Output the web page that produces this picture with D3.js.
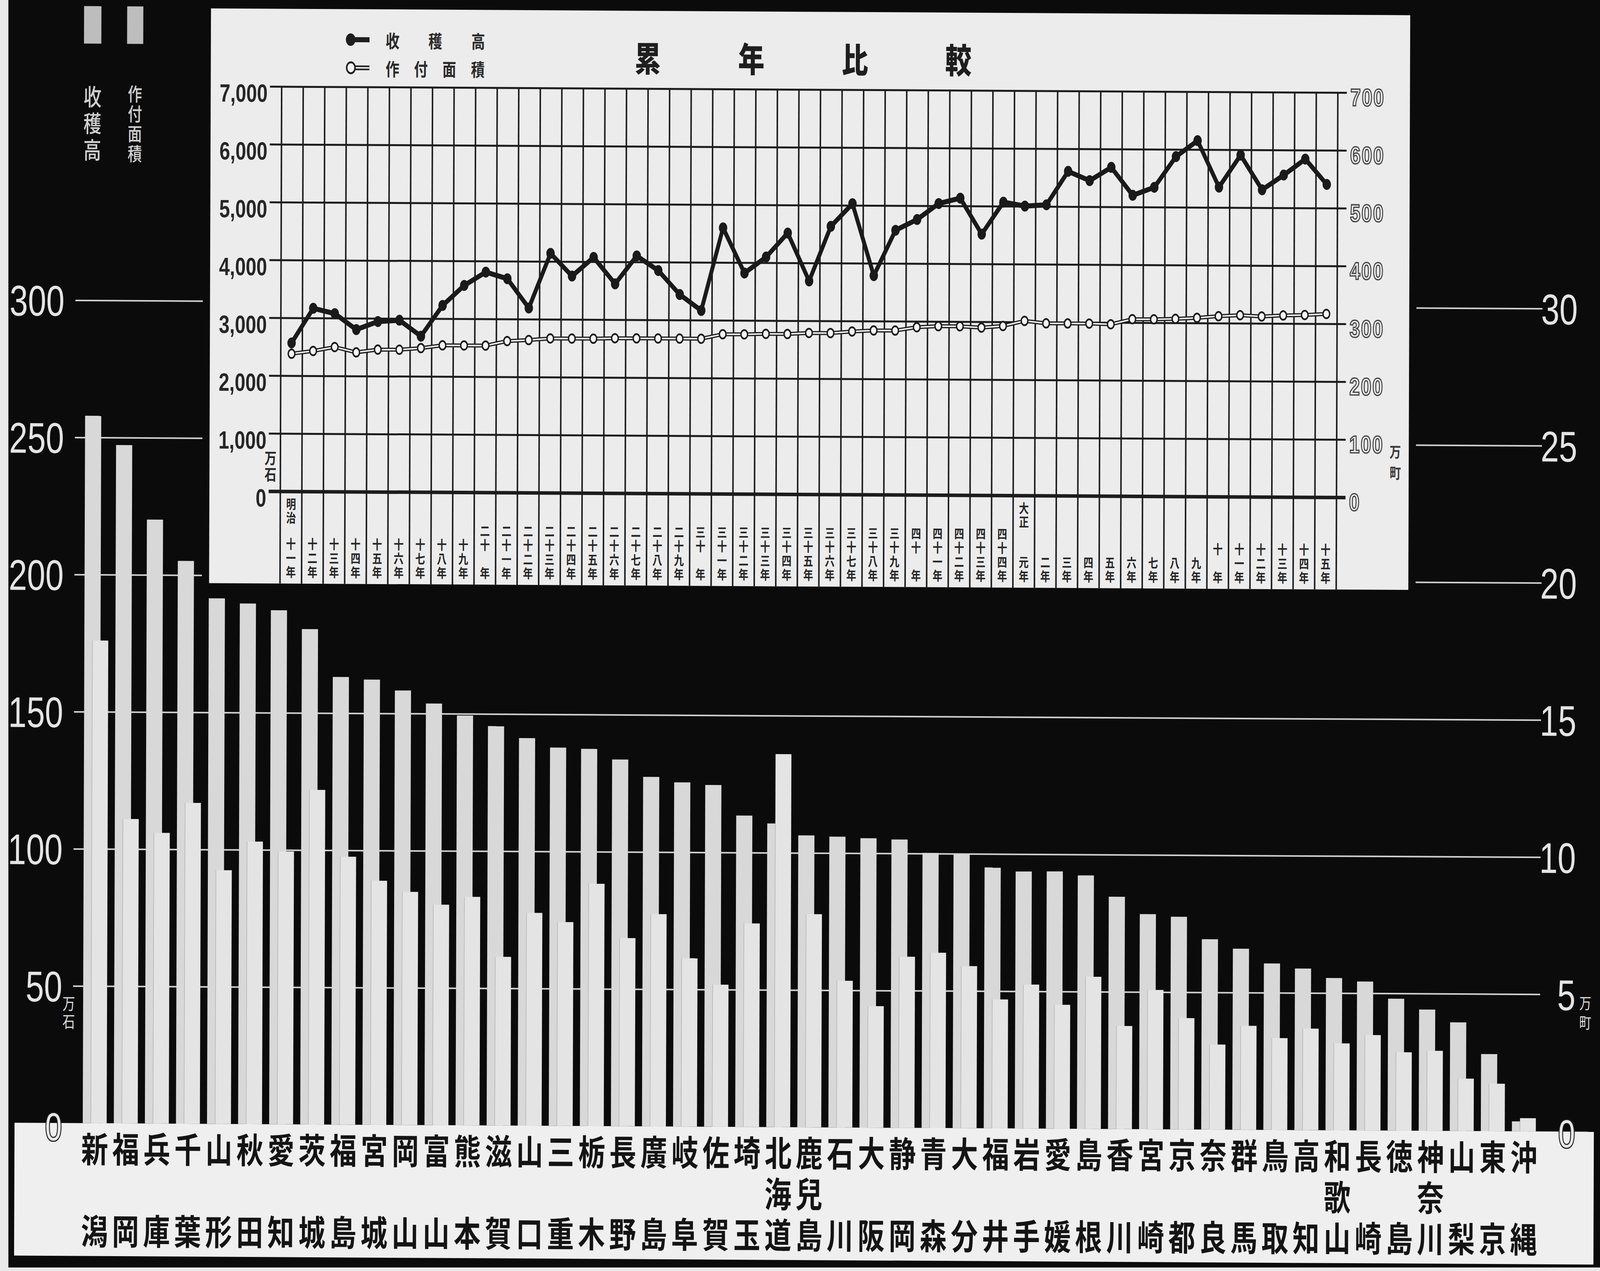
<!DOCTYPE html>
<html><head><meta charset="utf-8">
<script src="https://cdn.jsdelivr.net/npm/d3@7"></script>
<style>html,body{margin:0;padding:0;background:#e9e9e9;overflow:hidden;} svg{display:block;width:100vw;height:100vh;}
.vt{writing-mode:vertical-rl;}</style>
</head><body>
<svg id="c" viewBox="0 0 5346 3253" preserveAspectRatio="none"></svg>
<script>
// ---------- data ----------
const prefectures = ["新潟","福岡","兵庫","千葉","山形","秋田","愛知","茨城","福島","宮城","岡山","富山","熊本","滋賀","山口","三重","栃木","長野","廣島","岐阜","佐賀","埼玉","北海道","鹿兒島","石川","大阪","静岡","青森","大分","福井","岩手","愛媛","島根","香川","宮崎","京都","奈良","群馬","鳥取","高知","和歌山","長崎","徳島","神奈川","山梨","東京","沖縄"];
// 収穫高 (万石)
const harvest = [257.9,247.3,220.2,205.2,191.6,189.8,187.4,180.6,163.2,162.3,158.4,153.7,149.4,145.6,141.3,137.9,137.5,133.7,127.4,125.5,124.6,113.5,110.7,106.4,106,105.5,105.1,100.3,99.9,95.1,93.7,93.8,92.4,84.7,78.4,77.5,69.4,66,60.7,58.9,55.5,54.3,48.1,44.2,39.6,28.1,3.6];
// 作付面積 (万町)
const area = [17.6,11.1,10.6,11.7,9.25,10.3,9.95,12.2,9.77,8.9,8.5,8.04,8.33,6.15,7.76,7.43,8.84,6.86,7.74,6.14,5.18,7.42,13.6,7.77,5.35,4.43,6.24,6.39,5.91,4.7,5.25,4.52,5.55,3.76,5.08,4.06,3.1,3.79,3.35,3.7,3.17,3.48,2.86,2.92,1.91,1.73,0.48];
const leftTicks = [0,50,100,150,200,250,300];
const rightTicks = [0,5,10,15,20,25,30];

// inset: 累年比較
const yearLabels = ["　十一年","　十二年","　十三年","　十四年","　十五年","　十六年","　十七年","　十八年","　十九年","二十　年","二十一年","二十二年","二十三年","二十四年","二十五年","二十六年","二十七年","二十八年","二十九年","三十　年","三十一年","三十二年","三十三年","三十四年","三十五年","三十六年","三十七年","三十八年","三十九年","四十　年","四十一年","四十二年","四十三年","四十四年","　　元年","　　二年","　　三年","　　四年","　　五年","　　六年","　　七年","　　八年","　　九年","　十　年","　十一年","　十二年","　十三年","　十四年","　十五年"];
const eraLabels = [{at:0, text:"明治"},{at:34, text:"大正"}];
const yieldSeries = [2567,3168,3078,2804,2945,2970,2696,3230,3578,3811,3698,3194,4141,3751,4076,3620,4106,3855,3442,3168,4599,3820,4099,4516,3689,4636,5030,3788,4574,4763,5041,5136,4516,5071,5005,5030,5610,5452,5684,5203,5343,5876,6154,5352,5908,5311,5567,5846,5410];
const areaSeries = [238,243,250,241,246,246,249,254,254,254,262,264,267,267,267,268,268,268,268,268,276,276,277,277,279,279,282,284,284,290,292,292,290,293,302,298,298,298,297,306,306,307,309,312,314,312,314,315,317];
const insetLeftTicks = [0,1000,2000,3000,4000,5000,6000,7000];
const insetRightTicks = [0,100,200,300,400,500,600,700];

// ---------- drawing ----------
const W = 5346, H = 3253;
const cjk = "'Noto Sans CJK JP','Noto Sans CJK SC',sans-serif";
const narrow = "'Liberation Sans Narrow','Liberation Sans',sans-serif";
const sans = "'Liberation Sans',Arial,sans-serif";
const svg = d3.select("#c");
svg.append("rect").attr("width",W).attr("height",H).attr("fill","#e9e9e9");
svg.append("rect").attr("x",28).attr("y",0).attr("width",W-28).attr("height",3244).attr("fill","#0b0b0b");
const g = svg.append("g").attr("transform","rotate(0.25,2673,1626)");

// vertical text helper (one text element per column)
function vtext(parent, x0, yTop, str, fs, pitch, fill, weight){
  return parent.append("text").attr("class","vt").attr("x",x0).attr("y",yTop)
    .attr("font-family",cjk).attr("font-size",fs).attr("font-weight",weight||400)
    .attr("letter-spacing",pitch-fs).attr("fill",fill).text(str);
}

// bottom label panel
g.append("rect").attr("x",54).attr("y",2885).attr("width",5331-54).attr("height",3225-2885).attr("fill","#efefef");

// main scales
const x = d3.scaleBand().domain(prefectures).range([270,5149]);
const bw = x.bandwidth();
const y = d3.scaleLinear().domain([0,300]).range([2885,779]);
const yR = d3.scaleLinear().domain([0,30]).range([2885,779]);

// gridlines
const grid = g.append("g").attr("transform","translate(248,0)")
  .call(d3.axisRight(y).tickValues(leftTicks.filter(v=>v>0)).tickSize(5150-248).tickFormat(""));
grid.select(".domain").remove();
grid.selectAll("line").attr("stroke","#d0d0d0").attr("stroke-width",4);

// bars
g.append("g").selectAll("rect").data(prefectures).join("rect")
  .attr("x",d=>x(d)+bw*0.115).attr("width",bw*0.52)
  .attr("y",(d,i)=>y(harvest[i])).attr("height",(d,i)=>y(0)-y(harvest[i]))
  .attr("fill","#d8d8d8");
g.append("g").selectAll("rect").data(prefectures).join("rect")
  .attr("x",d=>x(d)+bw*0.375).attr("width",bw*0.51)
  .attr("y",(d,i)=>yR(area[i])).attr("height",(d,i)=>yR(0)-yR(area[i]))
  .attr("fill","#e4e4e4");
g.append("g").selectAll("line").data(prefectures).join("line")
  .attr("x1",d=>x(d)+bw*0.375).attr("x2",d=>x(d)+bw*0.375)
  .attr("y1",(d,i)=>Math.max(yR(area[i]), y(harvest[i]))).attr("y2",y(0))
  .attr("stroke","#b4b4b4").attr("stroke-width",2);

// left axis labels
const la = g.append("g").attr("transform","translate(212,0)")
  .call(d3.axisLeft(y).tickValues(leftTicks).tickSize(0).tickPadding(0).tickFormat(d3.format("d")));
la.select(".domain").remove();
la.selectAll("text").attr("fill","#e4e4e4").attr("font-family",narrow).attr("font-size",110).attr("dy","0.36em");
la.selectAll("text").filter(d=>d===0).attr("font-size",100).attr("stroke","#222").attr("stroke-width",6)
  .attr("paint-order","stroke").attr("fill","#e8e8e8").attr("y",8);
// right axis labels
const ra = g.append("g").attr("transform","translate(5268,0)")
  .call(d3.axisLeft(yR).tickValues(rightTicks).tickSize(0).tickPadding(0).tickFormat(d3.format("d")));
ra.select(".domain").remove();
ra.selectAll("text").attr("fill","#e4e4e4").attr("font-family",narrow).attr("font-size",110).attr("dy","0.36em");
ra.selectAll("text").filter(d=>d===0).attr("font-size",100).attr("stroke","#222").attr("stroke-width",6)
  .attr("paint-order","stroke").attr("fill","#e8e8e8").attr("y",4);

// unit marks
vtext(g, 234, y(50)+24, "万石", 42, 46, "#dcdcdc");
vtext(g, 5301, yR(5)+2, "万町", 40, 50, "#dcdcdc");

// top-left legend
const legendSw = [{x:274,w:58,label:"收穫高",pitch:68,fs:60,top:228},{x:418,w:54,label:"作付面積",pitch:51,fs:48,top:226}];
legendSw.forEach(s=>{
  g.append("rect").attr("x",s.x).attr("y",26).attr("width",s.w).attr("height",96).attr("fill","#bdbdbd");
  vtext(g, s.x + s.w/2, s.top, s.label, s.fs, s.pitch, "#cfcfcf", 500);
});

// bottom labels: one vertical column per prefecture (first char top row, middle char mid row, last char bottom row)
const labG = g.append("g");
prefectures.forEach(p=>{
  const chars = Array.from(p);
  const col = chars.length === 3 ? p : chars[0] + "　" + chars[chars.length-1];
  vtext(labG, x(p)+bw/2, 2906, col, 90, 105, "#141414", 700);
});

// ---------- inset ----------
const inset = g.append("g");
inset.append("rect").attr("x",674).attr("y",-20).attr("width",4055).attr("height",1545).attr("fill","#0b0b0b");
inset.append("rect").attr("x",698).attr("y",30).attr("width",4007).attr("height",1471).attr("fill","#ececec");

const xIn = d3.scaleBand().domain(d3.range(yearLabels.length)).range([935,4464]);
const bwi = xIn.bandwidth();
const yIn = d3.scaleLinear().domain([0,7000]).range([1265,229]);
const yInR = d3.scaleLinear().domain([0,700]).range([1265,229]);

// vertical grid
const edges = d3.range(yearLabels.length+1).map(i => i<yearLabels.length ? xIn(i) : xIn(i-1)+bwi);
inset.append("g").selectAll("line").data(edges).join("line")
  .attr("x1",d=>d).attr("x2",d=>d).attr("y1",yIn(7000)).attr("y2",1501)
  .attr("stroke","#1c1c1c").attr("stroke-width",5);

// horizontal grid + left labels
const ila = inset.append("g").attr("transform","translate(4494,0)")
  .call(d3.axisLeft(yIn).tickValues(insetLeftTicks).tickSize(4494-896).tickPadding(8).tickFormat(d3.format(",")));
ila.select(".domain").remove();
ila.selectAll("line").attr("stroke","#1c1c1c").attr("stroke-width",5);
ila.selectAll("line").filter(d=>d===0).attr("stroke-width",9);
ila.selectAll("text").attr("fill","#262626").attr("font-family",sans).attr("font-weight",700)
  .attr("font-size",64).attr("y",16).attr("dy","0.36em");

// right labels
const ira = inset.append("g").attr("transform","translate(4494,0)")
  .call(d3.axisRight(yInR).tickValues(insetRightTicks).tickSize(0).tickPadding(12).tickFormat(d3.format("d")));
ira.select(".domain").remove();
ira.selectAll("text").attr("fill","#f4f4f4").attr("stroke","#4a4a4a").attr("stroke-width",3.5)
  .attr("font-family",sans).attr("font-weight",700).attr("font-size",62).attr("y",11).attr("dy","0.36em")
  .attr("letter-spacing",4);

// unit marks inset
vtext(inset, 902, 1160, "万石", 40, 42, "#2a2a2a", 700);
vtext(inset, 4660, 1129, "万町", 38, 54, "#3a3a3a", 700);

// year labels (vertical)
const yl = inset.append("g");
yearLabels.forEach((lab,i)=>{
  vtext(yl, xIn(i)+bwi/2, 1347, lab, 33, 36, "#262626", 700);
});
eraLabels.forEach(e=>{
  vtext(yl, xIn(e.at)+bwi/2, 1281, e.text, 33, 35, "#262626", 700);
});

// lines
const lineY = d3.line().x((d,i)=>xIn(i)+bwi/2).y(d=>yIn(d));
const lineA = d3.line().x((d,i)=>xIn(i)+bwi/2).y(d=>yInR(d));
inset.append("path").datum(areaSeries).attr("d",lineA).attr("fill","none").attr("stroke","#1a1a1a").attr("stroke-width",10);
inset.append("path").datum(areaSeries).attr("d",lineA).attr("fill","none").attr("stroke","#ececec").attr("stroke-width",4);
inset.append("g").selectAll("circle").data(areaSeries).join("circle")
  .attr("cx",(d,i)=>xIn(i)+bwi/2).attr("cy",d=>yInR(d)).attr("r",11)
  .attr("fill","#f4f4f4").attr("stroke","#1a1a1a").attr("stroke-width",4.5);
inset.append("path").datum(yieldSeries).attr("d",lineY).attr("fill","none").attr("stroke","#1a1a1a")
  .attr("stroke-width",13).attr("stroke-linejoin","round");
inset.append("g").selectAll("circle").data(yieldSeries).join("circle")
  .attr("cx",(d,i)=>xIn(i)+bwi/2).attr("cy",d=>yIn(d)).attr("r",14).attr("fill","#1a1a1a");

// title
const title = ["累","年","比","較"];
inset.append("g").selectAll("text").data(title).join("text")
  .attr("x",(d,i)=>2158+i*346).attr("y",147).text(d=>d)
  .attr("font-family",cjk).attr("font-weight",900).attr("font-size",88).attr("fill","#1e1e1e")
  .attr("text-anchor","middle").attr("dominant-baseline","central");

// inset legend
const leg = inset.append("g");
leg.append("line").attr("x1",1165).attr("x2",1228).attr("y1",108).attr("y2",108).attr("stroke","#1e1e1e").attr("stroke-width",13);
leg.append("circle").attr("cx",1165).attr("cy",108).attr("r",16).attr("fill","#1e1e1e");
leg.append("line").attr("x1",1170).attr("x2",1228).attr("y1",180).attr("y2",180).attr("stroke","#1e1e1e").attr("stroke-width",12);
leg.append("line").attr("x1",1180).attr("x2",1228).attr("y1",180).attr("y2",180).attr("stroke","#ececec").attr("stroke-width",4);
leg.append("circle").attr("cx",1166).attr("cy",180).attr("r",14).attr("fill","#f4f4f4").attr("stroke","#1e1e1e").attr("stroke-width",5);
const legItems = [{label:"收穫高",y:108,pitch:143},{label:"作付面積",y:180,pitch:95}];
legItems.forEach(it=>{
  leg.append("g").selectAll("text").data(Array.from(it.label)).join("text")
    .attr("x",(d,i)=>1305+i*it.pitch).attr("y",it.y).text(d=>d)
    .attr("font-family",cjk).attr("font-weight",700).attr("font-size",46).attr("fill","#2a2a2a")
    .attr("text-anchor","middle").attr("dominant-baseline","central");
});
</script>
</body></html>
